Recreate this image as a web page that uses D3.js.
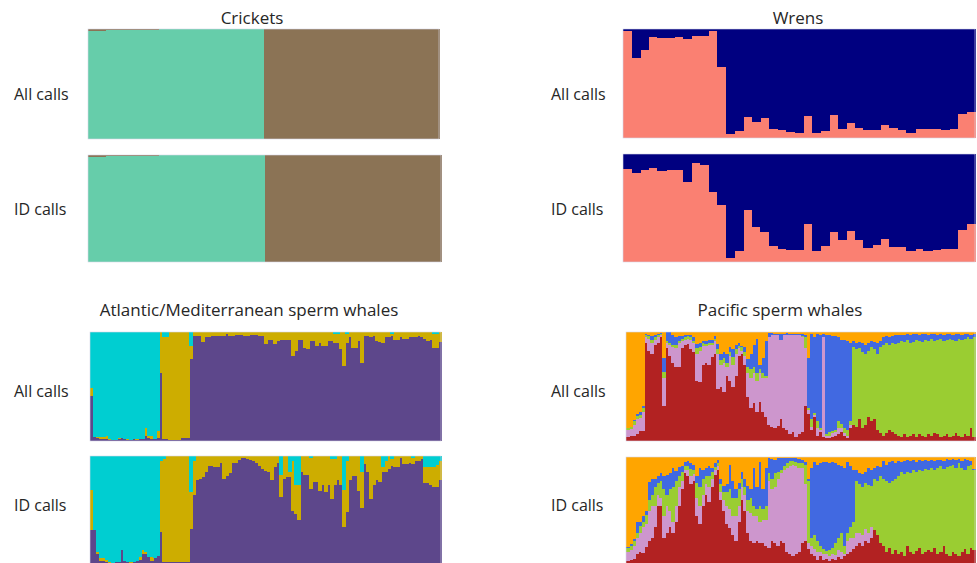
<!DOCTYPE html>
<html><head><meta charset="utf-8">
<script src="https://cdn.jsdelivr.net/npm/d3@7"></script>
<style>
html,body{margin:0;padding:0;background:#fff;}
svg text{font-family:"Open Sans","Noto Sans",sans-serif;fill:#262626;}
</style></head>
<body><svg id="chart" width="977" height="563"></svg>
<script>
// ---------- DATA ----------
const panelTitles = ["Crickets", "Wrens", "Atlantic/Mediterranean sperm whales", "Pacific sperm whales"];
const rowLabels = ["All calls", "ID calls"];

// Crickets: share of cluster 1 (green); remainder is cluster 2 (brown)
const cricketsAllGreen = [.985,.985,.99,.99,.992,.993,.995,.995,.996,.996,.997,.997,.997,.998,.998,.998,.998,.998,.998,.998,
  0,0,0,0,0,0,0,0,0,0,0,0,0,0,0,0,0,0,0,0];
const cricketsIdGreen = [.985,.985,.99,.99,.992,.993,.995,.995,.996,.996,.997,.997,.997,.998,.998,.998,.998,.998,.998,.998,
  0,0,0,0,0,0,0,0,0,0,0,0,0,0,0,0,0,0,0,0];

// Wrens: share of cluster 1 (salmon); remainder is cluster 2 (navy)
const wrensAllSalmon = [.98,.73,.81,.93,.92,.92,.93,.91,.94,.94,.98,.65,.04,.06,.19,.15,.18,.08,.07,.055,.05,.20,.05,.065,.21,.08,.14,.09,.07,.07,.12,.09,.07,.05,.08,.08,.08,.07,.08,.22,.24];
const wrensIdSalmon = [.86,.82,.85,.87,.84,.85,.85,.74,.92,.90,.65,.53,.04,.10,.48,.32,.28,.15,.12,.11,.11,.35,.10,.15,.28,.20,.29,.20,.13,.16,.21,.14,.14,.10,.12,.10,.11,.12,.12,.30,.35];

// Atlantic/Mediterranean: purple and cyan shares; remainder is yellow
const atlAllPurple = [.41,
  .04,.03,.02,.02,.02,.01,.01,.01,.02,.03,.02,.01,.01,.02,.01,.02,.02,.05,.03,.02,.02,.03,
  .62,.02,.02,.01,.01,.01,.01,.03,.03,.03,.75,
  .96,.96,.96,.91,.95,.95,.96,.96,.96,.96,
  .96,.98,.96,.96,.97,.97,.97,.96,.96,.97,
  .97,.97,.96,.96,.89,.93,.93,.89,.92,.93,
  .93,.93,.93,.78,.83,.93,.93,.85,.84,.92,
  .92,.87,.90,.87,.87,.92,.92,.90,.90,.84,
  .69,.90,.95,.85,.85,.92,.72,.96,.96,.95,
  .96,.92,.91,.90,.95,.95,.96,.93,.93,.95,
  .94,.94,.95,.95,.95,.96,.95,.94,.92,.93,
  .85,.85,.91];
const atlAllCyan = [.51,
  .96,.96,.96,.96,.95,.98,.99,.99,.97,.97,.98,.98,.99,.98,.98,.98,.98,.88,.95,.95,.98,.91,
  0,.05,.05,0,0,0,0,0,0,0,.13,
  0,0,0,0,0,0,0,0,0,0,
  0,0,0,0,0,0,0,0,0,0,
  0,0,0,0,0,0,0,0,0,0,
  0,0,0,0,0,0,0,0,0,0,
  0,0,0,0,0,0,0,.02,.02,0,
  0,.02,0,0,0,0,0,0,0,0,
  0,0,0,0,0,0,.02,0,0,0,
  0,0,0,0,0,0,0,0,0,0,
  .02,.02,0];
const atlIdPurple = [.32,.32,.10,
  .04,.04,.03,.02,.02,.03,.03,.14,.04,.03,.02,.03,.04,.05,.10,.10,.07,.04,.06,.08,
  .30,.03,.03,.03,.03,.03,.03,.03,.03,.03,.33,.64,
  .78,.79,.81,.85,.91,.91,.90,.90,.94,.79,
  .82,.84,.94,.94,.96,.98,.98,.97,.96,.95,
  .94,.91,.88,.86,.85,.78,.90,.94,.62,.79,
  .81,.81,.50,.47,.41,.85,.83,.83,.70,.76,
  .76,.68,.73,.67,.73,.61,.73,.78,.73,.35,
  .49,.78,.82,.82,.68,.52,.93,.85,.61,.73,
  .78,.76,.85,.85,.88,.91,.90,.90,.98,.93,
  .93,.94,.93,.95,.95,.97,.75,.75,.73,.72,
  .72,.78];
const atlIdCyan = [.31,.68,.88,
  .94,.94,.95,.97,.98,.97,.97,.86,.96,.97,.97,.97,.96,.93,.86,.88,.93,.93,.94,.92,
  .05,.03,0,0,0,0,0,0,0,0,.33,.05,
  0,0,0,0,0,0,0,0,0,0,
  0,0,0,0,0,0,0,0,0,0,
  0,0,0,0,0,0,0,0,.17,0,
  0,.15,.05,.27,.27,0,0,0,.02,0,
  0,0,0,0,0,.03,.03,0,0,.31,
  .05,0,0,0,0,.15,0,0,0,0,
  0,0,.10,.05,0,.03,0,0,0,0,
  0,0,.02,0,0,0,.10,.10,.10,.10,
  .08,.05];

// Pacific: red, pink, green, blue shares; remainder is orange
const pacAllRed = [.04,.05,.05,.06,.09,.09,.90,.83,.80,.88,.90,.95,.32,.85,.78,.72,.68,.68,.85,.88,
  .89,.84,.82,.55,.54,.70,.72,.70,.77,.80,.48,.50,.45,.60,.55,.50,.60,.78,.80,.70,
  .40,.30,.35,.27,.36,.27,.22,.15,.13,.12,.14,.20,.12,.10,.06,.08,.04,.06,.08,.32,
  .25,.10,.22,.05,.08,.04,.03,.03,.04,.05,.06,.08,.05,.03,.12,.15,.13,.20,.12,.15,
  .22,.18,.20,.10,.07,.05,.07,.10,.08,.06,.05,.04,.06,.04,.05,.06,.04,.06,.05,.04,
  .06,.05,.07,.06,.04,.05,.06,.04,.05,.07,.05,.04,.06,.05,.12,.04];
const pacAllPink = [.06,.06,.10,.14,.12,.18,.05,.11,.10,.05,.05,.02,.26,.05,.10,.14,.17,.22,.07,.05,
  .05,.09,.08,.25,.29,.17,.15,.18,.11,.12,.32,.20,.27,.08,.23,.20,.20,.07,.03,.08,
  .22,.28,.27,.28,.26,.31,.36,.80,.84,.85,.83,.73,.85,.87,.91,.89,.93,.91,.87,.53,
  .03,.03,.02,.07,.02,.91,.02,.02,.03,.03,.06,.04,.02,.02,.03,0,0,0,0,0,
  0,0,0,0,0,0,0,0,0,0,0,0,0,0,0,0,0,0,0,0,
  0,0,0,0,0,0,0,0,0,0,0,0,0,0,0,0];
const pacAllGreen = [.02,.02,.03,.03,.03,.03,.02,.02,.03,.02,.02,.01,.05,.02,.02,.02,.03,.02,.02,.02,
  .02,.02,.02,.05,.03,.03,.02,.02,.02,.02,.04,.04,.04,.04,.04,.07,.04,.02,.03,.04,
  .06,.08,.06,.07,.04,.04,.02,0,0,0,0,0,0,0,0,0,0,0,.01,.10,
  .02,.07,.02,.06,.02,0,.01,.03,.02,.02,.06,.04,.05,.05,.03,.71,.71,.65,.70,.65,
  .61,.68,.64,.70,.79,.83,.83,.78,.82,.83,.85,.88,.85,.89,.85,.85,.89,.86,.86,.89,
  .86,.89,.85,.87,.90,.87,.87,.90,.88,.85,.89,.89,.88,.90,.82,.91];
const pacAllBlue = [0,0,.01,.02,.03,.02,.01,.01,.03,.02,.01,.01,.13,.08,.10,.09,.07,.04,.02,.02,
  .01,.02,.03,.04,.04,.02,.03,.03,.03,.02,.05,.06,.06,.08,.04,.07,.04,.03,.01,.04,
  .07,.14,.20,.32,.04,.14,.32,.04,.02,.01,.01,.05,.01,.02,.01,.01,.01,.01,.02,.02,
  .46,.78,.69,.80,.85,.03,.91,.89,.87,.86,.77,.77,.81,.82,.72,.06,.06,.06,.08,.08,
  .07,.06,.07,.10,.06,.07,.06,.07,.06,.08,.07,.05,.06,.05,.07,.07,.05,.05,.07,.05,
  .05,.04,.06,.04,.04,.05,.05,.04,.04,.06,.04,.04,.04,.03,.03,.03];

const pacIdRed = [.04,.05,.06,.10,.12,.11,.17,.22,.25,.35,.55,.55,.25,.30,.35,.30,.40,.55,.70,.85,
  .82,.75,.78,.45,.38,.55,.65,.58,.72,.83,.88,.60,.50,.38,.34,.28,.22,.40,.60,.50,
  .30,.22,.20,.22,.20,.20,.18,.16,.22,.20,.18,.22,.20,.12,.10,.08,.10,.12,.20,.22,
  .15,.10,.08,.05,.08,.05,.06,.04,.06,.05,.07,.06,.08,.10,.12,.15,.18,.20,.18,.22,
  .20,.25,.32,.28,.20,.18,.12,.16,.10,.14,.10,.12,.08,.18,.12,.10,.13,.16,.10,.12,
  .14,.12,.16,.10,.12,.18,.10,.08,.12,.10,.08,.12,.15,.10,.16,.14];
const pacIdPink = [.08,.09,.12,.15,.18,.24,.21,.28,.30,.20,.10,.07,.20,.25,.15,.10,.15,.17,.08,.03,
  .06,.07,.06,.17,.17,.10,.10,.14,.08,.05,.04,.08,.10,.17,.18,.17,.23,.15,.12,.15,
  .20,.26,.25,.23,.20,.22,.24,.62,.48,.52,.62,.63,.68,.78,.82,.85,.82,.78,.70,.53,
  .05,.08,.07,.07,.04,.05,.04,.04,.04,.04,.07,.06,.02,.12,.13,.10,.12,.10,.10,.11,
  .10,.10,0,0,0,0,0,0,0,0,0,0,0,0,0,0,0,0,0,0,
  0,0,0,0,0,0,0,0,0,0,0,0,0,0,0,0];
const pacIdGreen = [.04,.04,.04,.05,.06,.05,.08,.10,.10,.17,.11,.16,.25,.10,.20,.32,.23,.10,.08,.04,
  .04,.07,.04,.14,.17,.15,.07,.10,.06,.03,.02,.07,.08,.13,.18,.17,.17,.15,.08,.07,
  .10,.14,.10,.07,.15,.10,.13,.07,.10,.13,.06,.03,.04,.04,.04,.03,.03,.04,.04,.18,
  .58,.07,.13,.10,.06,.05,.03,.06,.06,.11,.11,.18,.08,.08,.10,.15,.48,.45,.44,.43,
  .44,.38,.48,.50,.62,.62,.66,.60,.68,.66,.72,.74,.76,.68,.73,.78,.73,.72,.77,.77,
  .74,.78,.72,.80,.80,.71,.81,.84,.81,.80,.86,.78,.73,.82,.77,.74];
const pacIdBlue = [.01,.01,.02,.10,.04,.05,.04,.17,.15,.08,.06,.07,.12,.18,.15,.18,.09,.09,.06,.03,
  .04,.05,.05,.06,.18,.08,.08,.10,.04,.03,.03,.05,.05,.07,.23,.16,.08,.06,.06,.08,
  .13,.08,.35,.20,.40,.18,.35,.14,.18,.12,.13,.11,.07,.05,.03,.03,.04,.04,.03,.02,
  .02,.65,.67,.71,.76,.80,.82,.80,.79,.74,.68,.62,.72,.65,.57,.48,.10,.10,.12,.10,
  .16,.15,.10,.14,.09,.16,.15,.19,.18,.14,.14,.09,.12,.11,.11,.09,.09,.09,.09,.08,
  .08,.07,.08,.07,.05,.07,.07,.05,.05,.07,.04,.06,.10,.05,.03,.01];

// ---------- DRAW ----------
const svg = d3.select("#chart");

function buildRows(series, keys, restKey) {
  const n = series[0].length;
  return d3.range(n).map(i => {
    const row = {id: i};
    let s = 0;
    keys.forEach((k, j) => { row[k] = series[j][i]; s += series[j][i]; });
    if (restKey) row[restKey] = Math.max(0, 1 - s);
    return row;
  });
}

function drawPanel(rows, order, colors, x0, y0, w, h) {
  const g = svg.append("g").attr("transform", `translate(${x0},${y0})`);
  const x = d3.scaleBand().domain(rows.map(d => d.id)).range([0, w]).padding(0);
  const y = d3.scaleLinear().domain([0, 1]).range([h, 0]);
  const stacked = d3.stack().keys(order)(rows);
  g.selectAll("g.layer").data(stacked).join("g")
    .attr("class", "layer")
    .attr("fill", d => colors[d.key])
    .attr("shape-rendering", "crispEdges")
    .selectAll("rect").data(d => d).join("rect")
    .attr("x", d => x(d.data.id))
    .attr("width", x.bandwidth() + 0.6)
    .attr("y", d => y(Math.min(1, d[1])))
    .attr("height", d => Math.max(0, y(d[0]) - y(Math.min(1, d[1]))));
  g.append("rect").attr("width", w).attr("height", h)
    .attr("fill", "none").attr("stroke", "#d8d8e8").attr("stroke-width", 0.6);
}

const cricketColors = {green: "#66CDAA", brown: "#8B7355"};
drawPanel(buildRows([cricketsAllGreen], ["green"], "brown"), ["green", "brown"], cricketColors, 88, 29, 351, 110);
drawPanel(buildRows([cricketsIdGreen], ["green"], "brown"), ["green", "brown"], cricketColors, 88, 155, 353, 107);

const wrenColors = {salmon: "#FA8072", navy: "#000080"};
drawPanel(buildRows([wrensAllSalmon], ["salmon"], "navy"), ["salmon", "navy"], wrenColors, 623, 29, 352, 109);
drawPanel(buildRows([wrensIdSalmon], ["salmon"], "navy"), ["salmon", "navy"], wrenColors, 623, 154, 352, 108);

const atlColors = {purple: "#5D478B", yellow: "#CDAD00", cyan: "#00CED1"};
drawPanel(buildRows([atlAllPurple, atlAllCyan], ["purple", "cyan"], "yellow"), ["purple", "yellow", "cyan"], atlColors, 90, 332, 351, 109);
drawPanel(buildRows([atlIdPurple, atlIdCyan], ["purple", "cyan"], "yellow"), ["purple", "yellow", "cyan"], atlColors, 90, 456, 351, 109);

const pacColors = {red: "#B22222", pink: "#CD96CD", green: "#9ACD32", blue: "#4169E1", orange: "#FFA500"};
drawPanel(buildRows([pacAllRed, pacAllPink, pacAllGreen, pacAllBlue], ["red", "pink", "green", "blue"], "orange"),
  ["red", "pink", "green", "blue", "orange"], pacColors, 626, 332, 349, 109);
drawPanel(buildRows([pacIdRed, pacIdPink, pacIdGreen, pacIdBlue], ["red", "pink", "green", "blue"], "orange"),
  ["red", "pink", "green", "blue", "orange"], pacColors, 626, 457, 349, 108);

// titles
const titlePos = [[252, 24], [798, 24], [249, 316], [780, 316]];
panelTitles.forEach((t, i) => {
  svg.append("text").attr("x", titlePos[i][0]).attr("y", titlePos[i][1])
    .attr("text-anchor", "middle").attr("font-size", 17).text(t);
});
// row labels
const labelPos = [[14, 100], [14, 215], [551, 100], [551, 215], [14, 397], [14, 511], [551, 397], [551, 511]];
labelPos.forEach((p, i) => {
  svg.append("text").attr("x", p[0]).attr("y", p[1]).attr("font-size", 16).text(rowLabels[i % 2]);
});
</script></body></html>
